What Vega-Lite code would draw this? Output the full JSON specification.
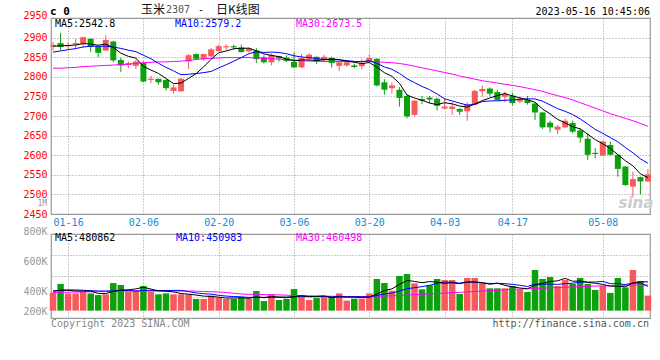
{
"$schema": "https://vega.github.io/schema/vega-lite/v6.json",
"padding": {"left": 0, "top": 3, "right": 0, "bottom": 0},
"background": "white",
"bounds": "flush",
"spacing": 20,
"config": {
 "view": {"stroke": "#999999", "strokeWidth": 1.2},
 "font": "DejaVu Sans Mono",
 "axis": {"labelFont": "DejaVu Sans Mono", "labelFontSize": 10, "title": null, "ticks": false, "domain": false}
},
"datasets": {"k": [
{"d":"01-12","o":2878,"h":2889,"l":2867,"c":2881,"v":409000,"ma5":2878,"ma10":2863,"ma30":2822,"vma5":420000,"vma10":418000,"vma30":410000},
{"d":"01-13","o":2886,"h":2912,"l":2867,"c":2876,"v":467000,"ma5":2879,"ma10":2866,"ma30":2822,"vma5":425000,"vma10":425000,"vma30":411000},
{"d":"01-16","o":2878,"h":2888,"l":2869,"c":2881,"v":404000,"ma5":2880,"ma10":2869,"ma30":2823,"vma5":425000,"vma10":427000,"vma30":412000},
{"d":"01-17","o":2883,"h":2897,"l":2871,"c":2886,"v":404000,"ma5":2881,"ma10":2872,"ma30":2824,"vma5":420000,"vma10":427000,"vma30":413000},
{"d":"01-18","o":2884,"h":2902,"l":2875,"c":2901,"v":416000,"ma5":2884.6,"ma10":2876,"ma30":2826,"vma5":420000,"vma10":425000,"vma30":414000},
{"d":"01-19","o":2897,"h":2898,"l":2863,"c":2876,"v":404000,"ma5":2883.6,"ma10":2878,"ma30":2827,"vma5":419000,"vma10":422000,"vma30":415000},
{"d":"01-20","o":2878,"h":2879,"l":2850,"c":2861,"v":393000,"ma5":2880.6,"ma10":2878,"ma30":2828,"vma5":404000,"vma10":420000,"vma30":416000},
{"d":"01-30","o":2867,"h":2906,"l":2866,"c":2894,"v":398000,"ma5":2883.4,"ma10":2878,"ma30":2829,"vma5":403000,"vma10":420000,"vma30":417000},
{"d":"01-31","o":2890,"h":2892,"l":2837,"c":2842,"v":473000,"ma5":2874.8,"ma10":2876,"ma30":2830,"vma5":417000,"vma10":421000,"vma30":418000},
{"d":"02-01","o":2843,"h":2849,"l":2812,"c":2829,"v":460000,"ma5":2860.4,"ma10":2872.5,"ma30":2831,"vma5":426000,"vma10":423000,"vma30":419000},
{"d":"02-02","o":2830,"h":2839,"l":2822,"c":2835,"v":416000,"ma5":2852.2,"ma10":2867.9,"ma30":2832,"vma5":428000,"vma10":424000,"vma30":420000},
{"d":"02-03","o":2828,"h":2843,"l":2820,"c":2839,"v":422000,"ma5":2847.8,"ma10":2864.2,"ma30":2834,"vma5":434000,"vma10":419000,"vma30":420000},
{"d":"02-06","o":2835,"h":2839,"l":2786,"c":2788,"v":453000,"ma5":2826.6,"ma10":2855,"ma30":2836,"vma5":445000,"vma10":424000,"vma30":420000},
{"d":"02-07","o":2792,"h":2803,"l":2784,"c":2795,"v":416000,"ma5":2817.2,"ma10":2846,"ma30":2837,"vma5":433000,"vma10":425000,"vma30":420000},
{"d":"02-08","o":2795,"h":2795,"l":2780,"c":2786,"v":398000,"ma5":2808.6,"ma10":2834.5,"ma30":2838,"vma5":421000,"vma10":423000,"vma30":420000},
{"d":"02-09","o":2792,"h":2793,"l":2765,"c":2771,"v":404000,"ma5":2795.8,"ma10":2824,"ma30":2838,"vma5":419000,"vma10":423000,"vma30":420000},
{"d":"02-10","o":2764,"h":2780,"l":2757,"c":2773,"v":398000,"ma5":2782.6,"ma10":2815.2,"ma30":2839,"vma5":414000,"vma10":424000,"vma30":420000},
{"d":"02-13","o":2763,"h":2797,"l":2762,"c":2795,"v":398000,"ma5":2784,"ma10":2805.3,"ma30":2840,"vma5":403000,"vma10":424000,"vma30":420000},
{"d":"02-14","o":2839,"h":2858,"l":2820,"c":2855,"v":398000,"ma5":2796,"ma10":2806.6,"ma30":2842,"vma5":399000,"vma10":416000,"vma30":420000},
{"d":"02-15","o":2858,"h":2860,"l":2844,"c":2846,"v":367000,"ma5":2808,"ma10":2808.3,"ma30":2844,"vma5":393000,"vma10":407000,"vma30":419000},
{"d":"02-16","o":2845,"h":2859,"l":2841,"c":2858,"v":367000,"ma5":2825.4,"ma10":2810.6,"ma30":2846,"vma5":386000,"vma10":402000,"vma30":417000},
{"d":"02-17","o":2852,"h":2873,"l":2850,"c":2870,"v":389000,"ma5":2844.8,"ma10":2813.7,"ma30":2847,"vma5":384000,"vma10":399000,"vma30":415000},
{"d":"02-20","o":2866,"h":2882,"l":2865,"c":2878,"v":376000,"ma5":2861.4,"ma10":2822.7,"ma30":2848,"vma5":379000,"vma10":391000,"vma30":413000},
{"d":"02-21","o":2875,"h":2883,"l":2868,"c":2878,"v":367000,"ma5":2865.8,"ma10":2830.9,"ma30":2849,"vma5":373000,"vma10":386000,"vma30":410000},
{"d":"02-22","o":2878,"h":2882,"l":2869,"c":2875,"v":367000,"ma5":2871.6,"ma10":2839.8,"ma30":2849,"vma5":373000,"vma10":383000,"vma30":405000},
{"d":"02-23","o":2875,"h":2882,"l":2862,"c":2863,"v":378000,"ma5":2872.6,"ma10":2849,"ma30":2849,"vma5":375000,"vma10":381000,"vma30":400000},
{"d":"02-24","o":2865,"h":2875,"l":2862,"c":2872,"v":367000,"ma5":2873,"ma10":2858.9,"ma30":2849,"vma5":371000,"vma10":377000,"vma30":398000},
{"d":"02-27","o":2867,"h":2873,"l":2835,"c":2845,"v":420000,"ma5":2866.4,"ma10":2863.9,"ma30":2848,"vma5":380000,"vma10":380000,"vma30":397000},
{"d":"02-28","o":2850,"h":2855,"l":2834,"c":2837,"v":353000,"ma5":2858.4,"ma10":2862.1,"ma30":2847,"vma5":377000,"vma10":375000,"vma30":396000},
{"d":"03-01","o":2837,"h":2860,"l":2829,"c":2856,"v":398000,"ma5":2854.6,"ma10":2863.1,"ma30":2846,"vma5":383000,"vma10":378000,"vma30":395000},
{"d":"03-02","o":2853,"h":2854,"l":2839,"c":2847,"v":360000,"ma5":2851.4,"ma10":2862,"ma30":2845,"vma5":380000,"vma10":378000,"vma30":394000},
{"d":"03-03","o":2849,"h":2855,"l":2838,"c":2840,"v":367000,"ma5":2845,"ma10":2859,"ma30":2844,"vma5":380000,"vma10":375000,"vma30":392000},
{"d":"03-06","o":2838,"h":2862,"l":2822,"c":2824,"v":433000,"ma5":2840.8,"ma10":2853.6,"ma30":2843,"vma5":382000,"vma10":381000,"vma30":390000},
{"d":"03-07","o":2824,"h":2858,"l":2823,"c":2848,"v":389000,"ma5":2843,"ma10":2850.7,"ma30":2841,"vma5":389000,"vma10":383000,"vma30":389000},
{"d":"03-08","o":2846,"h":2861,"l":2841,"c":2856,"v":360000,"ma5":2843,"ma10":2848.8,"ma30":2840,"vma5":382000,"vma10":383000,"vma30":388000},
{"d":"03-09","o":2851,"h":2852,"l":2833,"c":2839,"v":373000,"ma5":2841.4,"ma10":2846.4,"ma30":2840,"vma5":384000,"vma10":382000,"vma30":387000},
{"d":"03-10","o":2842,"h":2856,"l":2839,"c":2851,"v":382000,"ma5":2843.6,"ma10":2844.3,"ma30":2839,"vma5":387000,"vma10":384000,"vma30":386000},
{"d":"03-13","o":2848,"h":2851,"l":2824,"c":2835,"v":382000,"ma5":2845.8,"ma10":2843.3,"ma30":2839,"vma5":377000,"vma10":380000,"vma30":385000},
{"d":"03-14","o":2828,"h":2838,"l":2815,"c":2837,"v":404000,"ma5":2843.6,"ma10":2843.3,"ma30":2839,"vma5":380000,"vma10":385000,"vma30":384000},
{"d":"03-15","o":2829,"h":2839,"l":2826,"c":2837,"v":356000,"ma5":2839.8,"ma10":2841.4,"ma30":2839,"vma5":379000,"vma10":381000,"vma30":383000},
{"d":"03-16","o":2829,"h":2834,"l":2822,"c":2825,"v":369000,"ma5":2837,"ma10":2839.2,"ma30":2839,"vma5":379000,"vma10":382000,"vma30":383000},
{"d":"03-17","o":2827,"h":2846,"l":2820,"c":2835,"v":369000,"ma5":2833.8,"ma10":2838.7,"ma30":2839,"vma5":376000,"vma10":382000,"vma30":383000},
{"d":"03-20","o":2838,"h":2858,"l":2837,"c":2848,"v":404000,"ma5":2836.4,"ma10":2841.1,"ma30":2839,"vma5":380000,"vma10":379000,"vma30":384000},
{"d":"03-21","o":2846,"h":2847,"l":2775,"c":2778,"v":500000,"ma5":2824.6,"ma10":2834.1,"ma30":2838,"vma5":400000,"vma10":390000,"vma30":385000},
{"d":"03-22","o":2786,"h":2794,"l":2754,"c":2767,"v":473000,"ma5":2810.6,"ma10":2825.2,"ma30":2837,"vma5":423000,"vma10":401000,"vma30":386000},
{"d":"03-23","o":2771,"h":2786,"l":2757,"c":2778,"v":422000,"ma5":2801.2,"ma10":2819.1,"ma30":2836,"vma5":434000,"vma10":406000,"vma30":388000},
{"d":"03-24","o":2767,"h":2774,"l":2724,"c":2746,"v":520000,"ma5":2783.4,"ma10":2808.6,"ma30":2834,"vma5":464000,"vma10":420000,"vma30":390000},
{"d":"03-27","o":2751,"h":2754,"l":2694,"c":2699,"v":533000,"ma5":2753.6,"ma10":2795,"ma30":2831,"vma5":490000,"vma10":435000,"vma30":393000},
{"d":"03-28","o":2703,"h":2741,"l":2699,"c":2739,"v":471000,"ma5":2745.8,"ma10":2785.2,"ma30":2827,"vma5":484000,"vma10":442000,"vma30":396000},
{"d":"03-29","o":2743,"h":2751,"l":2730,"c":2739,"v":431000,"ma5":2740.2,"ma10":2775.4,"ma30":2823,"vma5":475000,"vma10":449000,"vma30":398000},
{"d":"03-30","o":2747,"h":2751,"l":2733,"c":2742,"v":458000,"ma5":2733,"ma10":2767.1,"ma30":2819,"vma5":483000,"vma10":458000,"vma30":400000},
{"d":"03-31","o":2744,"h":2747,"l":2714,"c":2726,"v":500000,"ma5":2729,"ma10":2756.2,"ma30":2815,"vma5":479000,"vma10":471000,"vma30":403000},
{"d":"04-03","o":2719,"h":2745,"l":2717,"c":2724,"v":493000,"ma5":2734,"ma10":2743.8,"ma30":2811,"vma5":471000,"vma10":480000,"vma30":406000},
{"d":"04-04","o":2718,"h":2735,"l":2703,"c":2724,"v":493000,"ma5":2731,"ma10":2738.4,"ma30":2807,"vma5":475000,"vma10":479000,"vma30":409000},
{"d":"04-06","o":2718,"h":2720,"l":2703,"c":2711,"v":400000,"ma5":2725.4,"ma10":2732.8,"ma30":2802,"vma5":469000,"vma10":472000,"vma30":411000},
{"d":"04-07","o":2712,"h":2735,"l":2688,"c":2729,"v":507000,"ma5":2722.8,"ma10":2727.9,"ma30":2798,"vma5":479000,"vma10":481000,"vma30":414000},
{"d":"04-10","o":2729,"h":2767,"l":2728,"c":2764,"v":507000,"ma5":2730.4,"ma10":2729.7,"ma30":2794,"vma5":480000,"vma10":479000,"vma30":417000},
{"d":"04-11","o":2763,"h":2778,"l":2750,"c":2769,"v":471000,"ma5":2739.4,"ma10":2736.7,"ma30":2790,"vma5":476000,"vma10":473000,"vma30":420000},
{"d":"04-12","o":2770,"h":2773,"l":2750,"c":2757,"v":438000,"ma5":2746,"ma10":2738.5,"ma30":2787,"vma5":465000,"vma10":470000,"vma30":422000},
{"d":"04-13","o":2761,"h":2767,"l":2739,"c":2741,"v":438000,"ma5":2752,"ma10":2738.7,"ma30":2784,"vma5":472000,"vma10":471000,"vma30":425000},
{"d":"04-14","o":2749,"h":2762,"l":2735,"c":2756,"v":438000,"ma5":2757.4,"ma10":2740.1,"ma30":2781,"vma5":458000,"vma10":469000,"vma30":428000},
{"d":"04-17","o":2752,"h":2759,"l":2727,"c":2733,"v":453000,"ma5":2751.2,"ma10":2740.8,"ma30":2778,"vma5":448000,"vma10":464000,"vma30":431000},
{"d":"04-18","o":2737,"h":2750,"l":2733,"c":2744,"v":431000,"ma5":2746.2,"ma10":2742.8,"ma30":2775,"vma5":440000,"vma10":458000,"vma30":433000},
{"d":"04-19","o":2741,"h":2751,"l":2729,"c":2733,"v":413000,"ma5":2741.4,"ma10":2743.7,"ma30":2771,"vma5":435000,"vma10":450000,"vma30":435000},
{"d":"04-20","o":2732,"h":2733,"l":2690,"c":2709,"v":560000,"ma5":2735,"ma10":2743.5,"ma30":2767,"vma5":459000,"vma10":466000,"vma30":437000},
{"d":"04-21","o":2709,"h":2710,"l":2667,"c":2671,"v":500000,"ma5":2718,"ma10":2737.7,"ma30":2763,"vma5":471000,"vma10":465000,"vma30":439000},
{"d":"04-24","o":2683,"h":2688,"l":2658,"c":2671,"v":513000,"ma5":2705.6,"ma10":2728.4,"ma30":2757,"vma5":483000,"vma10":466000,"vma30":441000},
{"d":"04-25","o":2665,"h":2677,"l":2654,"c":2673,"v":453000,"ma5":2691.4,"ma10":2718.8,"ma30":2752,"vma5":488000,"vma10":464000,"vma30":443000},
{"d":"04-26","o":2671,"h":2693,"l":2670,"c":2688,"v":493000,"ma5":2682.4,"ma10":2711.9,"ma30":2747,"vma5":504000,"vma10":469000,"vma30":445000},
{"d":"04-27","o":2682,"h":2688,"l":2656,"c":2660,"v":467000,"ma5":2672.6,"ma10":2703.8,"ma30":2741,"vma5":485000,"vma10":472000,"vma30":447000},
{"d":"04-28","o":2663,"h":2669,"l":2632,"c":2645,"v":507000,"ma5":2667.4,"ma10":2692.7,"ma30":2734,"vma5":487000,"vma10":479000,"vma30":449000},
{"d":"05-04","o":2642,"h":2656,"l":2588,"c":2601,"v":467000,"ma5":2653.4,"ma10":2679.5,"ma30":2727,"vma5":477000,"vma10":480000,"vma30":451000},
{"d":"05-05","o":2606,"h":2618,"l":2592,"c":2603,"v":427000,"ma5":2639.6,"ma10":2665.5,"ma30":2720,"vma5":472000,"vma10":480000,"vma30":453000},
{"d":"05-08","o":2599,"h":2637,"l":2598,"c":2635,"v":453000,"ma5":2629,"ma10":2655.7,"ma30":2713,"vma5":464000,"vma10":484000,"vma30":454000},
{"d":"05-09","o":2626,"h":2635,"l":2599,"c":2601,"v":407000,"ma5":2617.2,"ma10":2644.9,"ma30":2706,"vma5":452000,"vma10":469000,"vma30":455000},
{"d":"05-10","o":2601,"h":2602,"l":2545,"c":2565,"v":507000,"ma5":2601.2,"ma10":2634.3,"ma30":2700,"vma5":452000,"vma10":469000,"vma30":457000},
{"d":"05-11","o":2571,"h":2572,"l":2522,"c":2524,"v":444000,"ma5":2585.8,"ma10":2619.6,"ma30":2694,"vma5":448000,"vma10":463000,"vma30":458000},
{"d":"05-12","o":2520,"h":2558,"l":2494,"c":2539,"v":560000,"ma5":2572.8,"ma10":2606.2,"ma30":2688,"vma5":474000,"vma10":473000,"vma30":459000},
{"d":"05-15","o":2544,"h":2545,"l":2500,"c":2533,"v":487000,"ma5":2552.4,"ma10":2590.7,"ma30":2681,"vma5":481000,"vma10":473000,"vma30":460000},
{"d":"05-16","o":2533,"h":2565,"l":2532,"c":2551,"v":389000,"ma5":2542.8,"ma10":2579.2,"ma30":2673.5,"vma5":480862,"vma10":450983,"vma30":460498}
]},
"vconcat": [
{
 "width": 599, "height": 196,
 "data": {"name": "k"},
 "encoding": {"x": {"field": "d", "type": "ordinal", "scale": {"type": "point", "padding": 0.27},
   "axis": {"values": ["01-16","02-06","02-20","03-06","03-20","04-03","04-17","05-08"], "labelAngle": 0, "labelColor": "#1a88d4", "labelPadding": 3,
     "grid": true, "gridColor": "#999999", "gridDash": [1, 2], "gridWidth": 1, "gridOpacity": 1}}},
 "layer": [
  {"mark": {"type": "rule", "strokeWidth": 1},
   "encoding": {"y": {"field": "l", "type": "quantitative", "scale": {"domain": [2450, 2950], "nice": false, "zero": false},
      "axis": {"values": [2450,2500,2550,2600,2650,2700,2750,2800,2850,2900,2950], "format": "d", "labelColor": "#ff0000", "minExtent": 50, "maxExtent": 50, "labelPadding": 4, "labelOverlap": false,
        "labelOffset": {"condition": {"test": "datum.value >= 2950", "value": -2.5}, "value": 0},
        "grid": true, "gridColor": "#999999", "gridDash": [1, 2], "gridWidth": 1, "gridOpacity": 1}},
    "y2": {"field": "h"},
    "color": {"condition": {"test": "datum.c >= datum.o", "value": "#f65a5a"}, "value": "#0ca10c"}}},
  {"mark": {"type": "bar", "size": 6},
   "encoding": {"y": {"field": "o", "type": "quantitative", "axis": null}, "y2": {"field": "c"},
    "color": {"condition": {"test": "datum.c >= datum.o", "value": "#f65a5a"}, "value": "#0ca10c"}}},
  {"mark": {"type": "line", "strokeWidth": 1, "color": "#ff00ff"}, "encoding": {"y": {"field": "ma30", "type": "quantitative", "axis": null}}},
  {"mark": {"type": "line", "strokeWidth": 1, "color": "#0000ff"}, "encoding": {"y": {"field": "ma10", "type": "quantitative", "axis": null}}},
  {"mark": {"type": "line", "strokeWidth": 1, "color": "#000000"}, "encoding": {"y": {"field": "ma5", "type": "quantitative", "axis": null}}},
  {"data": {"values": [{}]}, "mark": {"type": "text", "font": "Noto Sans CJK SC", "fontSize": 12, "align": "left", "baseline": "middle", "dx": -2.5, "color": "#111111"},
   "encoding": {"x": {"datum": "02-06", "type": "ordinal"}, "y": {"datum": 2970.5, "type": "quantitative", "axis": null}, "text": {"value": "玉米"}}},
  {"data": {"values": [{}]}, "mark": {"type": "text", "fontSize": 10, "align": "left", "baseline": "middle", "dx": 22.5, "color": "#555555"},
   "encoding": {"x": {"datum": "02-06", "type": "ordinal"}, "y": {"datum": 2970.5, "type": "quantitative", "axis": null}, "text": {"value": "2307"}}},
  {"data": {"values": [{}]}, "mark": {"type": "text", "fontSize": 10, "align": "left", "baseline": "middle", "dx": 54.5, "color": "#111111"},
   "encoding": {"x": {"datum": "02-06", "type": "ordinal"}, "y": {"datum": 2970.5, "type": "quantitative", "axis": null}, "text": {"value": "-"}}},
  {"data": {"values": [{}]}, "mark": {"type": "text", "font": "Noto Sans CJK SC", "fontSize": 12, "align": "left", "baseline": "middle", "dx": 72.5, "color": "#111111"},
   "encoding": {"x": {"datum": "02-06", "type": "ordinal"}, "y": {"datum": 2970.5, "type": "quantitative", "axis": null}, "text": {"value": "日K线图"}}},
  {"data": {"values": [{}]}, "mark": {"type": "text", "fontSize": 10, "align": "right", "baseline": "middle", "dx": 2, "color": "#000000"},
   "encoding": {"x": {"datum": "05-16", "type": "ordinal"}, "y": {"datum": 2966, "type": "quantitative", "axis": null}, "text": {"value": "2023-05-16 10:45:06"}}},
  {"data": {"values": [{}]}, "mark": {"type": "text", "fontSize": 11, "fontWeight": "bold", "align": "left", "baseline": "middle", "dx": -3, "color": "#000000"},
   "encoding": {"x": {"datum": "01-12", "type": "ordinal"}, "y": {"datum": 2966, "type": "quantitative", "axis": null}, "text": {"value": "c 0"}}},
  {"data": {"values": [{}]}, "mark": {"type": "text", "fontSize": 10, "align": "left", "baseline": "middle", "dx": 2, "color": "#000000"},
   "encoding": {"x": {"datum": "01-12", "type": "ordinal"}, "y": {"datum": 2935.5, "type": "quantitative", "axis": null}, "text": {"value": "MA5:2542.8"}}},
  {"data": {"values": [{}]}, "mark": {"type": "text", "fontSize": 10, "align": "left", "baseline": "middle", "dx": 1.5, "color": "#0000ff"},
   "encoding": {"x": {"datum": "02-10", "type": "ordinal"}, "y": {"datum": 2935.5, "type": "quantitative", "axis": null}, "text": {"value": "MA10:2579.2"}}},
  {"data": {"values": [{}]}, "mark": {"type": "text", "fontSize": 10, "align": "left", "baseline": "middle", "dx": 2, "color": "#ff00ff"},
   "encoding": {"x": {"datum": "03-06", "type": "ordinal"}, "y": {"datum": 2935.5, "type": "quantitative", "axis": null}, "text": {"value": "MA30:2673.5"}}},
  {"data": {"values": [{}]}, "mark": {"type": "text", "fontSize": 8, "align": "right", "baseline": "middle", "dx": -6, "color": "#999999"},
   "encoding": {"x": {"datum": "01-12", "type": "ordinal"}, "y": {"datum": 2475, "type": "quantitative", "axis": null}, "text": {"value": "1M"}}},
  {"data": {"values": [{}]}, "mark": {"type": "text", "font": "DejaVu Sans", "fontSize": 15, "fontWeight": "bold", "fontStyle": "italic", "align": "center", "baseline": "middle", "dx": 3, "color": "#cccccc"},
   "encoding": {"x": {"datum": "05-12", "type": "ordinal"}, "y": {"datum": 2478, "type": "quantitative", "axis": null}, "text": {"value": "sina"}}}
 ],
 "resolve": {"axis": {"y": "independent"}}
},
{
 "width": 599, "height": 84,
 "data": {"name": "k"},
 "encoding": {"x": {"field": "d", "type": "ordinal", "scale": {"type": "point", "padding": 0.27},
   "axis": {"values": ["01-16","02-06","02-20","03-06","03-20","04-03","04-17","05-08"], "labels": false,
     "grid": true, "gridColor": "#999999", "gridDash": [1, 2], "gridWidth": 1, "gridOpacity": 1}}},
 "layer": [
  {"mark": {"type": "bar", "size": 6.5},
   "encoding": {"y": {"field": "v", "type": "quantitative", "scale": {"domain": [240000, 800000], "nice": false, "zero": false},
      "axis": {"values": [240000, 400000, 600000, 800000], "labelExpr": "datum.value < 300000 ? '200K' : format(datum.value/1000, 'd') + 'K'", "labelColor": "#999999", "grid": false, "minExtent": 50, "maxExtent": 50, "labelPadding": 4, "labelOverlap": false, "labelBaseline": "alphabetic",
        "labelOffset": {"condition": {"test": "datum.value < 300000", "value": -4}, "value": 0}}},
    "y2": {"datum": 289000},
    "color": {"condition": {"test": "datum.c >= datum.o", "value": "#f65a5a"}, "value": "#0ca10c"}}},
  {"mark": {"type": "line", "strokeWidth": 1, "color": "#ff00ff"}, "encoding": {"y": {"field": "vma30", "type": "quantitative",
      "axis": {"orient": "right", "values": [380000, 520000, 660000], "labels": false, "grid": true, "gridColor": "#999999", "gridDash": [1, 2], "gridWidth": 1, "gridOpacity": 1, "minExtent": 0, "maxExtent": 0}}}},
  {"mark": {"type": "line", "strokeWidth": 1, "color": "#0000ff"}, "encoding": {"y": {"field": "vma10", "type": "quantitative", "axis": null}}},
  {"mark": {"type": "line", "strokeWidth": 1, "color": "#000000"}, "encoding": {"y": {"field": "vma5", "type": "quantitative", "axis": null}}},
  {"data": {"values": [{}]}, "mark": {"type": "text", "fontSize": 10, "align": "left", "baseline": "middle", "dx": 2, "color": "#000000"},
   "encoding": {"x": {"datum": "01-12", "type": "ordinal"}, "y": {"datum": 771000, "type": "quantitative", "axis": null}, "text": {"value": "MA5:480862"}}},
  {"data": {"values": [{}]}, "mark": {"type": "text", "fontSize": 10, "align": "left", "baseline": "middle", "dx": 2.5, "color": "#0000ff"},
   "encoding": {"x": {"datum": "02-10", "type": "ordinal"}, "y": {"datum": 771000, "type": "quantitative", "axis": null}, "text": {"value": "MA10:450983"}}},
  {"data": {"values": [{}]}, "mark": {"type": "text", "fontSize": 10, "align": "left", "baseline": "middle", "dx": 2, "color": "#ff00ff"},
   "encoding": {"x": {"datum": "03-06", "type": "ordinal"}, "y": {"datum": 771000, "type": "quantitative", "axis": null}, "text": {"value": "MA30:460498"}}},
  {"data": {"values": [{}]}, "mark": {"type": "text", "fontSize": 10, "align": "left", "baseline": "middle", "dx": -2, "color": "#888888"},
   "encoding": {"x": {"datum": "01-12", "type": "ordinal"}, "y": {"datum": 197000, "type": "quantitative", "axis": null}, "text": {"value": "Copyright 2023 SINA.COM"}}},
  {"data": {"values": [{}]}, "mark": {"type": "text", "fontSize": 10, "align": "right", "baseline": "middle", "dx": 1, "color": "#555555"},
   "encoding": {"x": {"datum": "05-16", "type": "ordinal"}, "y": {"datum": 197000, "type": "quantitative", "axis": null}, "text": {"value": "http://finance.sina.com.cn"}}}
 ],
 "resolve": {"axis": {"y": "independent"}}
}
]
}
